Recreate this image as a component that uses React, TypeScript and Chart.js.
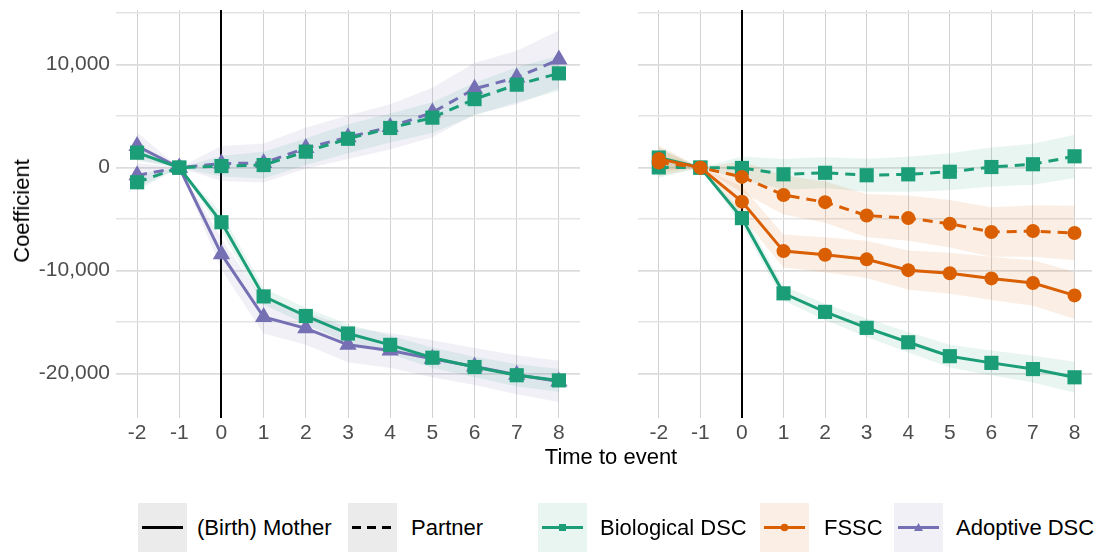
import React, { useEffect, useRef } from 'react';
import { Chart, registerables } from 'chart.js';

Chart.register(...registerables);

// ---------- data ----------
const timeToEvent = [-2, -1, 0, 1, 2, 3, 4, 5, 6, 7, 8];
const yTickValues = [-20000, -15000, -10000, -5000, 0, 5000, 10000, 15000];
const groupLabels = ['Biological DSC', 'FSSC', 'Adoptive DSC'];
const roleLabels = ['(Birth) Mother', 'Partner'];

// Left panel (Biological DSC vs Adoptive DSC)
const bioMotherLeft = [1450, 0, -5300, -12500, -14400, -16100, -17200, -18450, -19350, -20150, -20650];
const bioMotherLeftCI = [800, 0, 900, 800, 800, 900, 900, 1000, 1000, 1100, 1100];
const adoMotherLeft = [2100, 0, -8400, -14500, -15600, -17200, -17750, -18550, -19300, -20100, -20750];
const adoMotherLeftCI = [1300, 0, 1500, 1600, 1600, 1700, 1700, 1800, 1800, 1900, 2000];
const bioPartnerLeft = [-1420, 0, 150, 250, 1550, 2800, 3850, 4850, 6650, 8050, 9150];
const bioPartnerLeftCI = [800, 0, 1000, 1300, 1300, 1400, 1400, 1500, 1600, 1700, 1700];
const adoPartnerLeft = [-750, 0, 400, 450, 1900, 2950, 3950, 5350, 7650, 8750, 10500];
const adoPartnerLeftCI = [1200, 0, 1700, 1900, 2000, 2100, 2200, 2400, 2500, 2600, 2800];

// Right panel (Biological DSC vs FSSC)
const bioMotherRight = [980, 0, -4900, -12200, -14000, -15550, -16950, -18300, -18950, -19550, -20350];
const bioMotherRightCI = [1000, 0, 700, 700, 800, 900, 1000, 1100, 1200, 1300, 1500];
const fsscMotherRight = [850, 0, -3300, -8100, -8450, -8900, -9950, -10250, -10750, -11200, -12400];
const fsscMotherRightCI = [1300, 0, 1500, 1600, 1700, 1800, 1900, 2000, 2100, 2200, 2300];
const bioPartnerRight = [20, 0, -30, -650, -500, -740, -650, -400, 60, 330, 1100];
const bioPartnerRightCI = [1000, 0, 1100, 1500, 1500, 1600, 1700, 1800, 1900, 2000, 2100];
const fsscPartnerRight = [500, 0, -900, -2650, -3350, -4650, -4900, -5450, -6250, -6150, -6350];
const fsscPartnerRightCI = [1300, 0, 1500, 1900, 2000, 2100, 2200, 2300, 2400, 2500, 2650];

// ---------- styles ----------
const GREEN = '#1B9E77';
const ORANGE = '#D95F02';
const PURPLE = '#7570B3';
const FONT = "'Liberation Sans', Arial, Helvetica, sans-serif";
const TICK_COLOR = '#4D4D4D';
const DASH = [10, 7];

function rgba(hex: string, a: number) {
  const n = parseInt(hex.slice(1), 16);
  return `rgba(${(n >> 16) & 255},${(n >> 8) & 255},${n & 255},${a})`;
}

type Series = {
  values: number[];
  ci: number[];
  color: string;
  shape: string;
  radius: number;
  dashed: boolean;
};

function buildDatasets(series: Series[]) {
  const lines = series.map((s) => ({
    type: 'line',
    data: timeToEvent.map((x, i) => ({ x, y: s.values[i] })),
    borderColor: s.color,
    backgroundColor: s.color,
    borderWidth: 3,
    borderDash: s.dashed ? DASH : [],
    borderCapStyle: 'butt',
    pointStyle: s.shape,
    pointRadius: s.radius,
    pointHoverRadius: s.radius,
    pointBorderWidth: 0,
    pointBackgroundColor: s.color,
    pointBorderColor: s.color,
    fill: false,
    tension: 0,
  }));
  const ribbons: any[] = [];
  series.forEach((s) => {
    const lowerIndex = lines.length + ribbons.length;
    ribbons.push({
      type: 'line',
      data: timeToEvent.map((x, i) => ({ x, y: s.values[i] - s.ci[i] })),
      borderWidth: 0,
      borderColor: 'rgba(0,0,0,0)',
      pointRadius: 0,
      fill: false,
      tension: 0,
    });
    ribbons.push({
      type: 'line',
      data: timeToEvent.map((x, i) => ({ x, y: s.values[i] + s.ci[i] })),
      borderWidth: 0,
      borderColor: 'rgba(0,0,0,0)',
      pointRadius: 0,
      fill: { target: lowerIndex },
      backgroundColor: rgba(s.color, 0.1),
      tension: 0,
    });
  });
  return [...lines, ...ribbons];
}

const zeroLine = {
  id: 'zeroLine',
  beforeDatasetsDraw(chart: any) {
    const { ctx, chartArea, scales } = chart;
    const x = Math.round(scales.x.getPixelForValue(0));
    ctx.save();
    ctx.strokeStyle = '#000000';
    ctx.lineWidth = 2;
    ctx.beginPath();
    ctx.moveTo(x, chartArea.top);
    ctx.lineTo(x, chartArea.bottom);
    ctx.stroke();
    ctx.restore();
  },
};

type PanelProps = {
  series: Series[];
  left: number;
  width: number;
  height: number;
  yAxisWidth: number;
  padRight: number;
  xMax: number;
  showYLabels: boolean;
};

function Panel({ series, left, width, height, yAxisWidth, padRight, xMax, showYLabels }: PanelProps) {
  const ref = useRef<HTMLCanvasElement | null>(null);
  useEffect(() => {
    if (!ref.current) return;
    const chart = new Chart(ref.current, {
      type: 'line',
      data: { datasets: buildDatasets(series) as any },
      options: {
        animation: false,
        responsive: false,
        devicePixelRatio: 1,
        layout: { padding: { top: 5, right: padRight, left: 0, bottom: 0 } },
        plugins: {
          legend: { display: false },
          tooltip: { enabled: false },
          filler: { drawTime: 'beforeDatasetDraw' },
        } as any,
        scales: {
          x: {
            type: 'linear',
            min: -2.5,
            max: xMax,
            border: { display: false },
            grid: { color: '#D2D2D2', lineWidth: 1, drawTicks: false },
            afterBuildTicks: (scale: any) => {
              scale.ticks = timeToEvent.map((v) => ({ value: v }));
            },
            afterFit: (scale: any) => {
              scale.height = height - 5 - 413;
              scale.paddingLeft = 0;
              scale.paddingRight = 0;
            },
            ticks: {
              padding: 3,
              color: TICK_COLOR,
              font: { family: FONT, size: 21 },
              maxRotation: 0,
              autoSkip: false,
              callback: (v: any) => String(v),
            },
          },
          y: {
            type: 'linear',
            min: -24300,
            max: 15300,
            border: { display: false },
            grid: {
              drawTicks: false,
              color: (ctx: any) => (ctx.tick && ctx.tick.value % 10000 === 0 ? '#DCDCDC' : '#E4E4E4'),
              lineWidth: (ctx: any) => (ctx.tick && ctx.tick.value % 10000 === 0 ? 1.8 : 1.4),
            },
            afterBuildTicks: (scale: any) => {
              scale.ticks = yTickValues.map((v) => ({ value: v }));
            },
            afterFit: (scale: any) => {
              scale.width = yAxisWidth;
              scale.paddingTop = 0;
              scale.paddingBottom = 0;
            },
            ticks: {
              display: showYLabels,
              padding: 6,
              color: TICK_COLOR,
              font: { family: FONT, size: 21 },
              autoSkip: false,
              callback: (v: any) => (v % 10000 === 0 ? Number(v).toLocaleString('en-US') : ''),
            },
          },
        },
      } as any,
      plugins: [zeroLine],
    });
    return () => chart.destroy();
  }, []);
  return (
    <canvas
      ref={ref}
      width={width}
      height={height}
      style={{ position: 'absolute', left, top: 0, width, height }}
    />
  );
}

const leftSeries: Series[] = [
  { values: bioMotherLeft, ci: bioMotherLeftCI, color: GREEN, shape: 'rect', radius: 10, dashed: false },
  { values: bioPartnerLeft, ci: bioPartnerLeftCI, color: GREEN, shape: 'rect', radius: 10, dashed: true },
  { values: adoMotherLeft, ci: adoMotherLeftCI, color: PURPLE, shape: 'triangle', radius: 10, dashed: false },
  { values: adoPartnerLeft, ci: adoPartnerLeftCI, color: PURPLE, shape: 'triangle', radius: 10, dashed: true },
];

const rightSeries: Series[] = [
  { values: fsscMotherRight, ci: fsscMotherRightCI, color: ORANGE, shape: 'circle', radius: 7, dashed: false },
  { values: fsscPartnerRight, ci: fsscPartnerRightCI, color: ORANGE, shape: 'circle', radius: 7, dashed: true },
  { values: bioMotherRight, ci: bioMotherRightCI, color: GREEN, shape: 'rect', radius: 10, dashed: false },
  { values: bioPartnerRight, ci: bioPartnerRightCI, color: GREEN, shape: 'rect', radius: 10, dashed: true },
];

function LineKey({ dashed }: { dashed: boolean }) {
  return (
    <svg width={49} height={49}>
      <rect x={0} y={0} width={49} height={49} fill="#EBEBEB" />
      <line x1={4} y1={24.5} x2={45} y2={24.5} stroke="#000" strokeWidth={3} strokeDasharray={dashed ? '9 6' : undefined} />
    </svg>
  );
}

function ColorKey({ color, shape }: { color: string; shape: string }) {
  let marker: React.ReactNode = null;
  if (shape === 'rect') marker = <rect x={21} y={21} width={7} height={7} fill={color} />;
  else if (shape === 'circle') marker = <circle cx={24.5} cy={24.5} r={3.8} fill={color} />;
  else marker = <polygon points="24.5,20 29,28 20,28" fill={color} />;
  return (
    <svg width={49} height={49}>
      <rect x={0} y={0} width={49} height={49} fill={rgba(color, 0.1)} />
      <line x1={4} y1={24.5} x2={45} y2={24.5} stroke={color} strokeWidth={3} />
      {marker}
    </svg>
  );
}

const textStyle: React.CSSProperties = {
  position: 'absolute',
  fontFamily: FONT,
  fontSize: 22,
  color: '#000',
  lineHeight: '26px',
  whiteSpace: 'nowrap',
};

export default function App() {
  return (
    <div style={{ position: 'absolute', left: 0, top: 0, width: 1102, height: 552, overflow: 'hidden', background: '#fff' }}>
      <Panel series={leftSeries} left={0} width={590} height={455} yAxisWidth={116} padRight={6} xMax={8.5} showYLabels={true} />
      <Panel series={rightSeries} left={590} width={512} height={455} yAxisWidth={48} padRight={0} xMax={8.42} showYLabels={false} />

      <div style={{ ...textStyle, left: 21.5, top: 211, transform: 'translate(-50%, -50%) rotate(-90deg)' }}>Coefficient</div>
      <div style={{ ...textStyle, left: 611, top: 457, transform: 'translate(-50%, -50%)' }}>Time to event</div>

      <div style={{ position: 'absolute', left: 138, top: 503 }}><LineKey dashed={false} /></div>
      <div style={{ ...textStyle, left: 197, top: 515 }}>{roleLabels[0]}</div>
      <div style={{ position: 'absolute', left: 348, top: 503 }}><LineKey dashed={true} /></div>
      <div style={{ ...textStyle, left: 411, top: 515 }}>{roleLabels[1]}</div>

      <div style={{ position: 'absolute', left: 538, top: 503 }}><ColorKey color={GREEN} shape="rect" /></div>
      <div style={{ ...textStyle, left: 600, top: 515 }}>{groupLabels[0]}</div>
      <div style={{ position: 'absolute', left: 760, top: 503 }}><ColorKey color={ORANGE} shape="circle" /></div>
      <div style={{ ...textStyle, left: 824, top: 515 }}>{groupLabels[1]}</div>
      <div style={{ position: 'absolute', left: 894, top: 503 }}><ColorKey color={PURPLE} shape="triangle" /></div>
      <div style={{ ...textStyle, left: 956, top: 515 }}>{groupLabels[2]}</div>
    </div>
  );
}
